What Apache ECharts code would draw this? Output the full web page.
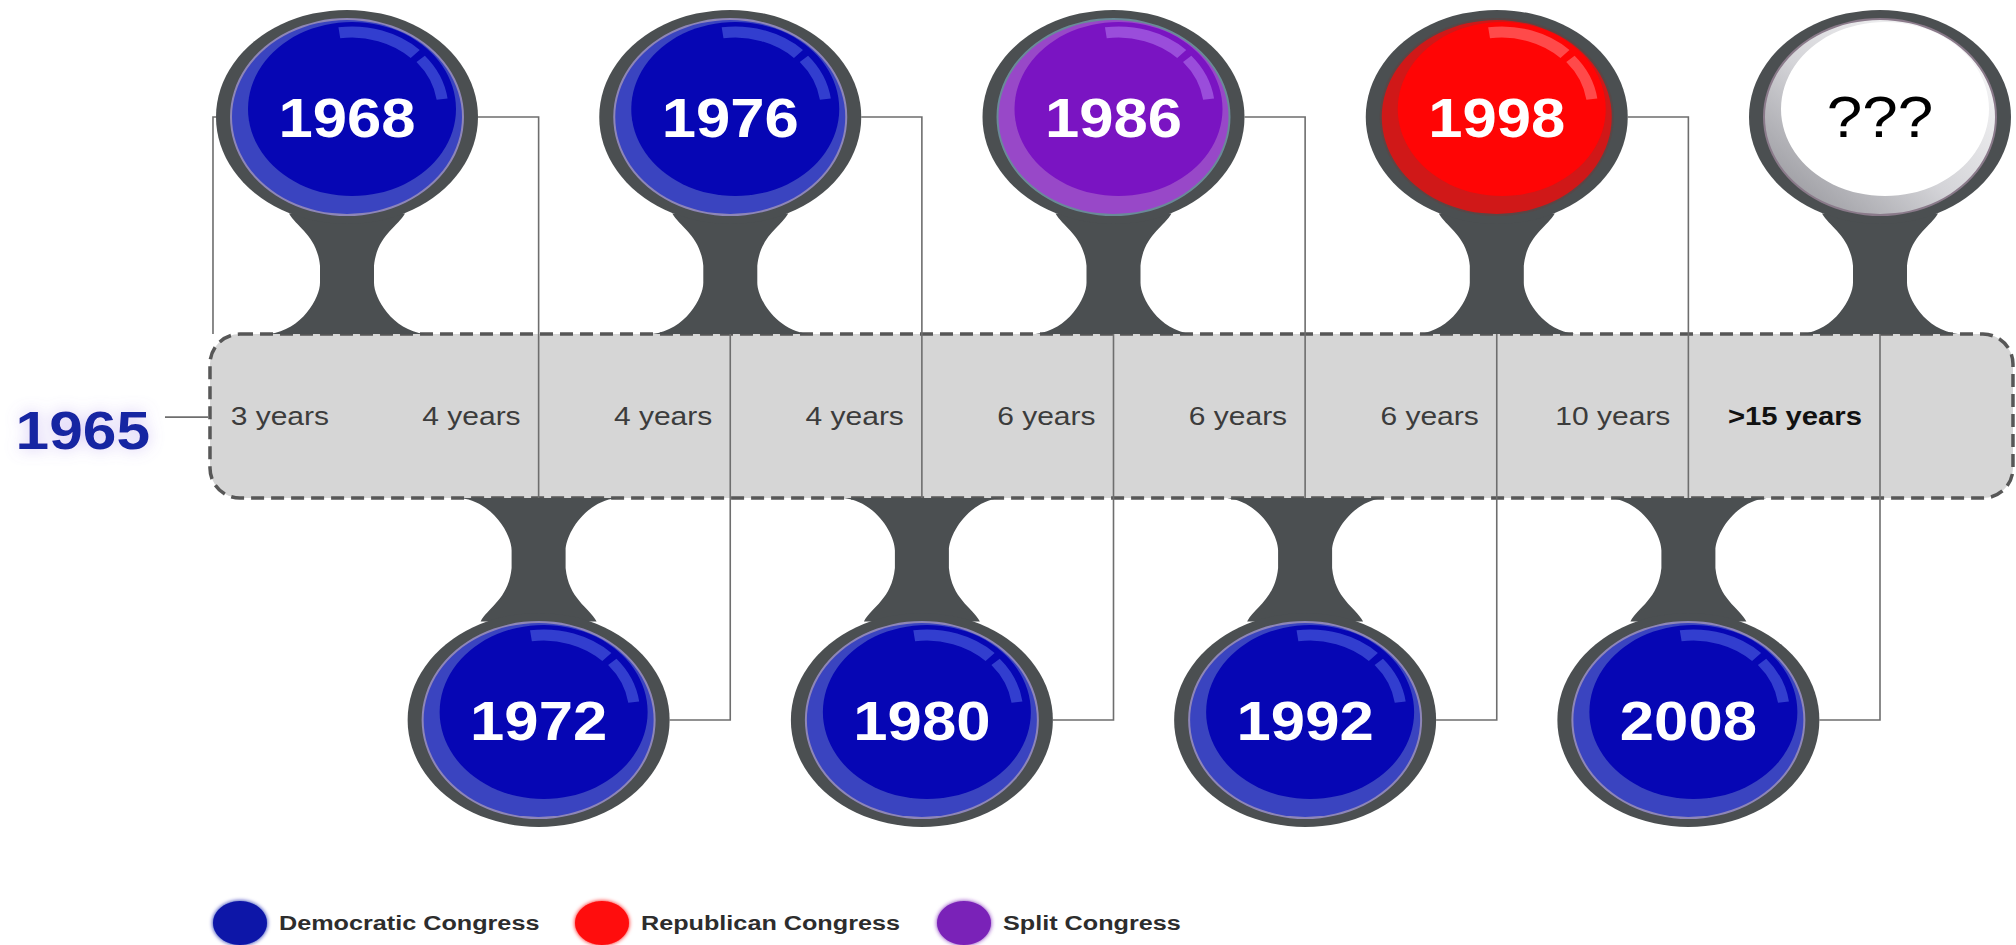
<!DOCTYPE html>
<html>
<head>
<meta charset="utf-8">
<script src="https://cdn.jsdelivr.net/npm/echarts@6/dist/echarts.min.js"></script>
<style>
html,body{margin:0;padding:0;background:#ffffff;}
#c{width:2016px;height:945px;}
</style>
</head>
<body>
<div id="c"></div>
<script>
// ---------------- data ----------------
const startYear = '1965';
const years   = ['1968', '1972', '1976', '1980', '1986', '1992', '1998', '2008', '???'];
const parties = ['D', 'D', 'D', 'D', 'S', 'D', 'R', 'D', 'U'];
const gaps    = ['3 years', '4 years', '4 years', '4 years', '6 years', '6 years', '6 years', '10 years', '>15 years'];
const legendNames = ['Democratic Congress', 'Republican Congress', 'Split Congress'];
const legendKeys  = ['D', 'R', 'S'];

// ---------------- styles / layout ----------------
const FONT = '"Liberation Sans", Arial, Helvetica, sans-serif';
const PARTY = {
  D: { main: '#0606b4', crescent: '#3a44c0', hi: 'rgba(80,100,225,0.6)', edge: '#8e86b8', text: '#ffffff', legend: '#0b14a8' },
  R: { main: '#ff0505', crescent: '#d01818', hi: 'rgba(255,120,120,0.6)', edge: '#5a4646', text: '#ffffff', legend: '#ff0a0a' },
  S: { main: '#7a14c2', crescent: '#9848c8', hi: 'rgba(175,115,235,0.6)', edge: '#6a8a98', text: '#ffffff', legend: '#7a22b8' },
  U: { main: '#ffffff', crescent: null, hi: null, edge: '#8a7a8a', text: '#000000' }
};
const L = {
  ring: '#4b4f51', line: '#6e6e6e',
  rx: 131, ry: 107, erx: 117, ery: 99, irx: 115, iry: 97, mrx: 104, mry: 87, mdx: 5, mdy: -8,
  bandL: -0.715, bandR: 8.694, bandT: 0.28, bandB: -0.264,
  labelGap: 18
};
const rowOf = i => (i % 2 === 0 ? 1 : -1);
const bulbData = years.map((y, i) => [i, rowOf(i)]);

function cX(api, v) { return api.coord([v, 0])[0]; }
function cY(api, v) { return api.coord([0, v])[1]; }
function ell(cx, cy, rx, ry, style) {
  return { type: 'circle', x: cx, y: cy, scaleY: ry / rx, shape: { cx: 0, cy: 0, r: rx }, style: style };
}
function txt(x, y, text, o) {
  return {
    type: 'text', x: x, y: y, scaleX: o.scaleX || 1,
    style: {
      text: text, fill: o.fill, fontSize: o.size, fontWeight: o.weight || 'normal', fontFamily: FONT,
      align: o.align, textAlign: o.align, verticalAlign: 'middle', textVerticalAlign: 'middle',
      textShadowColor: o.shadowColor, textShadowBlur: o.shadowBlur || 0
    }
  };
}

const chart = echarts.init(document.getElementById('c'), null, { renderer: 'svg', width: 2016, height: 945 });

const option = {
  animation: false,
  backgroundColor: '#ffffff',
  grid: { left: 347, right: 136, top: 117, bottom: 225 },
  xAxis: { type: 'value', min: 0, max: 8, show: false },
  yAxis: { type: 'value', min: -1, max: 1, show: false },
  graphic: legendNames.map((name, k) => ({
    type: 'group', x: 240 + k * 362, y: 923,
    children: [
      { type: 'circle', shape: { cx: 0, cy: 0, r: 27 }, scaleY: 22 / 27,
        style: { fill: PARTY[legendKeys[k]].legend, shadowBlur: 4, shadowColor: PARTY[legendKeys[k]].legend } },
      { type: 'text', x: 39, y: 0, scaleX: 1.2,
        style: { text: name, fill: '#2d2d2d', fontSize: 21, fontWeight: 'bold', fontFamily: FONT,
                 align: 'left', textAlign: 'left', verticalAlign: 'middle', textVerticalAlign: 'middle' } }
    ]
  })),
  series: [
    // band
    {
      type: 'custom', data: [[L.bandL, L.bandT]],
      renderItem: function (params, api) {
        const x0 = cX(api, L.bandL), x1 = cX(api, L.bandR), y0 = cY(api, L.bandT), y1 = cY(api, L.bandB);
        return { type: 'rect', shape: { x: x0, y: y0, width: x1 - x0, height: y1 - y0, r: 30 },
                 style: { fill: '#d6d6d6', stroke: '#575757', lineWidth: 3.5, lineDash: [13, 7] } };
      }
    },
    // connectors
    {
      type: 'custom', data: bulbData,
      renderItem: function (params, api) {
        const i = params.dataIndex, row = api.value(1);
        const c = api.coord([api.value(0), row]);
        const st = { stroke: L.line, lineWidth: 1.6, fill: null };
        const ch = [];
        if (i < years.length - 1) {
          const nx = api.coord([api.value(0) + 1, row])[0];
          const far = cY(api, row > 0 ? L.bandB : L.bandT);
          ch.push({ type: 'polyline', shape: { points: [[c[0] + L.rx, c[1]], [nx, c[1]], [nx, far]] }, style: st });
        }
        if (i === 0) {
          const bl = cX(api, L.bandL) + 3, bt = cY(api, L.bandT);
          ch.push({ type: 'polyline', shape: { points: [[c[0] - L.rx, c[1]], [bl, c[1]], [bl, bt]] }, style: st });
        }
        return { type: 'group', children: ch };
      }
    },
    // stems
    {
      type: 'custom', data: bulbData,
      renderItem: function (params, api) {
        const row = api.value(1);
        const c = api.coord([api.value(0), row]);
        const cx = c[0], cy = c[1];
        const d = row > 0 ? 1 : -1;
        const edge = cY(api, row > 0 ? L.bandT : L.bandB);
        const k = Math.abs(edge - cy) / 216;
        const Y = t => (t >= 216 ? edge : cy + d * t * k).toFixed(1);
        const P = (dx, t) => (cx + dx).toFixed(1) + ' ' + Y(t);
        const p = 'M' + P(-58, 96) +
          ' C' + P(-50, 110) + ' ' + P(-30, 118) + ' ' + P(-27, 148) +
          ' L' + P(-27, 165) +
          ' C' + P(-27, 180) + ' ' + P(-45, 212) + ' ' + P(-78, 216) +
          ' L' + P(78, 216) +
          ' C' + P(45, 212) + ' ' + P(27, 180) + ' ' + P(27, 165) +
          ' L' + P(27, 148) +
          ' C' + P(30, 118) + ' ' + P(50, 110) + ' ' + P(58, 96) + ' Z';
        return { type: 'path', shape: { pathData: p }, style: { fill: L.ring } };
      }
    },
    // bulbs
    {
      type: 'custom', data: bulbData,
      renderItem: function (params, api) {
        const i = params.dataIndex;
        const c = api.coord([api.value(0), api.value(1)]);
        const cx = c[0], cy = c[1];
        const P = PARTY[parties[i]];
        const crescent = P.crescent ? P.crescent : {
          type: 'linear', x: 0, y: 1, x2: 1, y2: 0,
          colorStops: [{ offset: 0, color: '#8c8c92' }, { offset: 0.45, color: '#d4d4d8' }, { offset: 1, color: '#ffffff' }]
        };
        const ch = [
          ell(cx, cy, L.rx, L.ry, { fill: L.ring }),
          ell(cx, cy, L.erx, L.ery, { fill: P.edge }),
          ell(cx, cy, L.irx, L.iry, { fill: crescent }),
          ell(cx + L.mdx, cy + L.mdy, L.mrx, L.mry, { fill: P.main })
        ];
        if (P.hi) {
          const deg = Math.PI / 180;
          ch.push({ type: 'arc', x: cx + 5, y: cy - 7, scaleY: 78 / 91,
                    shape: { cx: 0, cy: 0, r: 91, startAngle: -98 * deg, endAngle: -46 * deg, clockwise: true },
                    style: { stroke: P.hi, lineWidth: 13, fill: null } });
          ch.push({ type: 'arc', x: cx + 5, y: cy - 7, scaleY: 78 / 91,
                    shape: { cx: 0, cy: 0, r: 91, startAngle: -41 * deg, endAngle: -8 * deg, clockwise: true },
                    style: { stroke: P.hi, lineWidth: 11, fill: null } });
        }
        ch.push(txt(cx, cy, years[i], { fill: P.text, size: parties[i] === 'U' ? 58 : 56,
          weight: parties[i] === 'U' ? 'normal' : 'bold', align: 'center', scaleX: 1.1 }));
        return { type: 'group', children: ch };
      }
    },
    // gap labels in the band
    {
      type: 'custom', data: gaps.map((g, i) => [i, 0]),
      renderItem: function (params, api) {
        const i = params.dataIndex;
        const x = api.coord([api.value(0), 0])[0] - L.labelGap;
        const mid = (cY(api, L.bandT) + cY(api, L.bandB)) / 2;
        const last = i === gaps.length - 1;
        return txt(x, mid, gaps[i], { fill: last ? '#111111' : '#3c3c3c', size: 25,
          weight: last ? 'bold' : 'normal', align: 'right', scaleX: last ? 1.17 : 1.2 });
      }
    },
    // start year
    {
      type: 'custom', data: [[L.bandL, 0]],
      renderItem: function (params, api) {
        const bl = cX(api, L.bandL);
        const mid = (cY(api, L.bandT) + cY(api, L.bandB)) / 2;
        return { type: 'group', children: [
          { type: 'line', shape: { x1: bl - 45, y1: mid + 1, x2: bl - 2, y2: mid + 1 }, style: { stroke: L.line, lineWidth: 1.6 } },
          txt(bl - 60, mid + 15, startYear, { fill: '#1426a2', size: 53, weight: 'bold', align: 'right', scaleX: 1.14,
            shadowColor: 'rgba(150,120,230,0.4)', shadowBlur: 16 })
        ] };
      }
    }
  ]
};
chart.setOption(option);
</script>
</body>
</html>
